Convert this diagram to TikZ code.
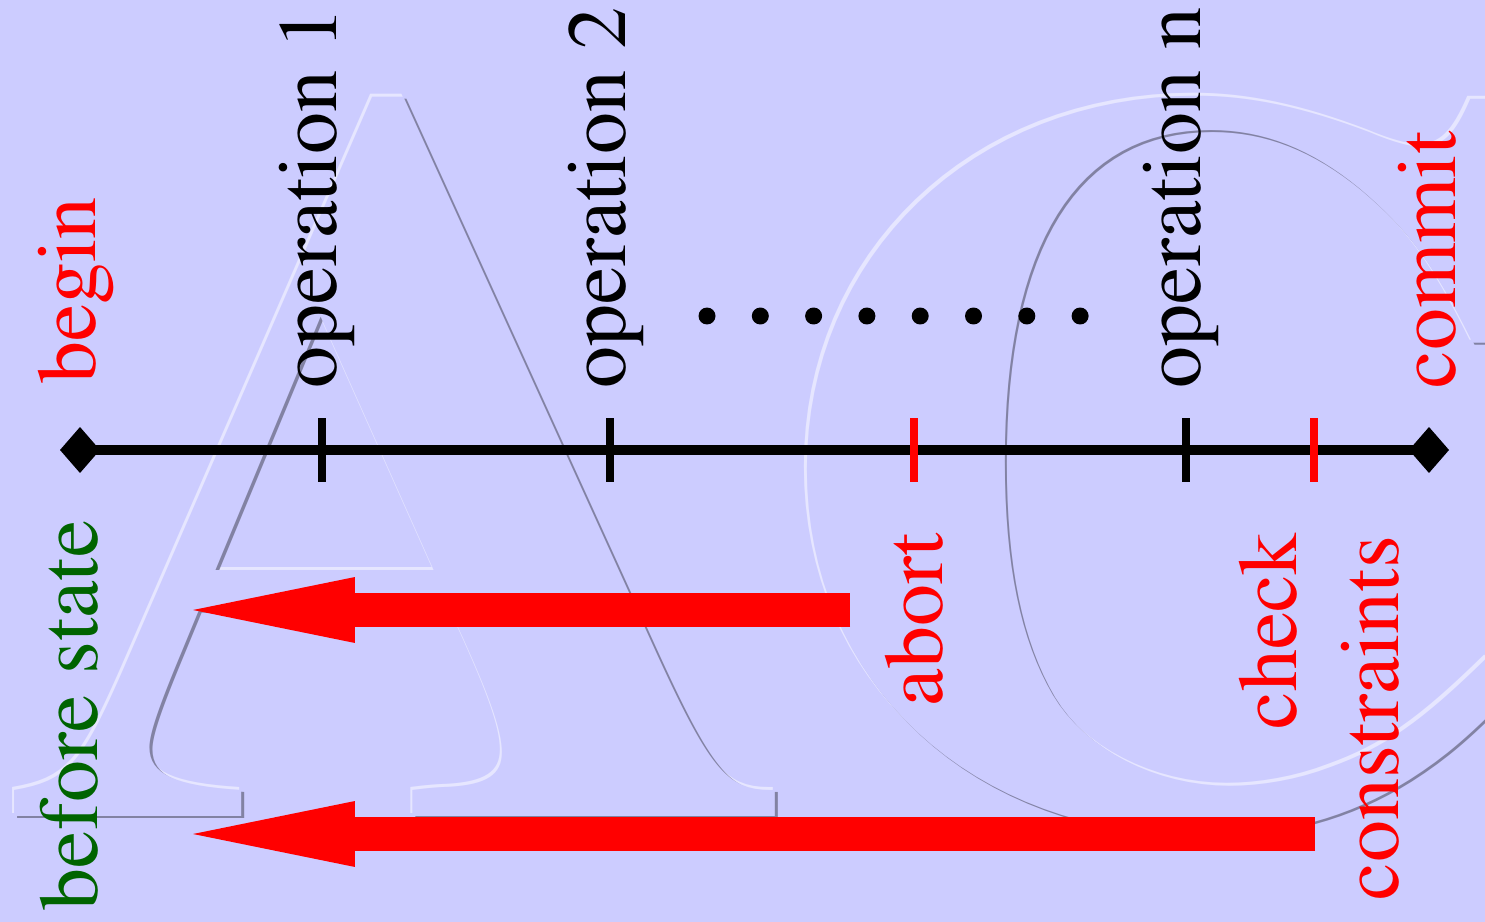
\documentclass[tikz,border=0pt]{standalone}
\usepackage[T1]{fontenc}
\usepackage{graphicx}
\renewcommand\rmdefault{ptm}
\usetikzlibrary{arrows.meta}
\definecolor{bg}{RGB}{204,204,255}
\definecolor{hilite}{RGB}{230,230,255}
\definecolor{shade}{RGB}{130,130,163}
\definecolor{dkgreen}{RGB}{0,100,0}
\newcommand\labfont{\fontsize{47.8}{57}\selectfont}
\newcommand\bigfont{\usefont{T1}{ptm}{b}{n}\fontsize{603}{700}\selectfont}
\newcommand\embtext{\scalebox{1.056}[0.984]{AC}}
\begin{document}
\begin{tikzpicture}[x=0.02cm,y=-0.02cm,
  lab/.style={font=\labfont, inner sep=0pt, outer sep=0pt, rotate=90, anchor=base west},
  emb/.style={font=\bigfont, inner sep=0pt, outer sep=0pt, anchor=base west},
  tickmark/.style={line width=0.16cm},
  timeline/.style={line width=0.2cm, {Diamond[length=0.8cm,width=0.92cm,line width=0pt]}-{Diamond[length=0.8cm,width=0.92cm,line width=0pt]}},
  bigarrow/.style={draw=red, line width=0.68cm, -{Triangle[length=3.24cm,width=1.32cm,line width=0pt]}},
  dot/.style={circle, fill=black, inner sep=0pt, minimum size=0.34cm}]
\useasboundingbox (0,0) rectangle (1485,922);
\clip (0,0) rectangle (1485,922);
\fill[bg] (0,0) rectangle (1485,922);
% embossed background letters
\node[emb, text=hilite] (embW) at (2.5,813.5) {\embtext};
\node[emb, text=shade]  (embS) at (7.5,818.5) {\embtext};
\node[emb, text=bg]     (embB) at (5,816) {\embtext};
% timeline
\coordinate (tl) at (60,450);
\coordinate (tr) at (1449,450);
\draw[timeline] (tl) -- (tr);
\coordinate (k1) at (322,450);
\coordinate (k2) at (610,450);
\coordinate (ka) at (914,450);
\coordinate (kn) at (1186,450);
\coordinate (kc) at (1314,450);
\draw[tickmark] (k1) ++(0,-32) -- ++(0,64);
\draw[tickmark] (k2) ++(0,-32) -- ++(0,64);
\draw[tickmark, red] (ka) ++(0,-32) -- ++(0,64);
\draw[tickmark] (kn) ++(0,-32) -- ++(0,64);
\draw[tickmark, red] (kc) ++(0,-32) -- ++(0,64);
% labels above
\node[lab, text=red] (begin) at (95,383) {begin};
\node[lab] (op1) at (336,388) {operation 1};
\node[lab] (op2) at (625,388) {operation 2};
\node[lab] (opn) at (1200,388) {operation n};
\node[lab, text=red] (commit) at (1455,388) {commit};
% dots
\foreach \i in {0,...,7} \node[dot] (d\i) at (707+53.3*\i,316) {};
% labels below
\node[lab, text=red] (abort) at (942,706) {abort};
\node[lab, text=red] (check) at (1296,729) {check};
\node[lab, text=red] (constr) at (1398,900) {constraints};
\node[lab, text=dkgreen] (before) at (97,910) {before state};
% arrows
\coordinate (a1s) at (850,610);
\coordinate (a1e) at (193,610);
\coordinate (a2s) at (1315,834);
\coordinate (a2e) at (193,834);
\draw[bigarrow] (a1s) -- (a1e);
\draw[bigarrow] (a2s) -- (a2e);
\end{tikzpicture}
\end{document}
